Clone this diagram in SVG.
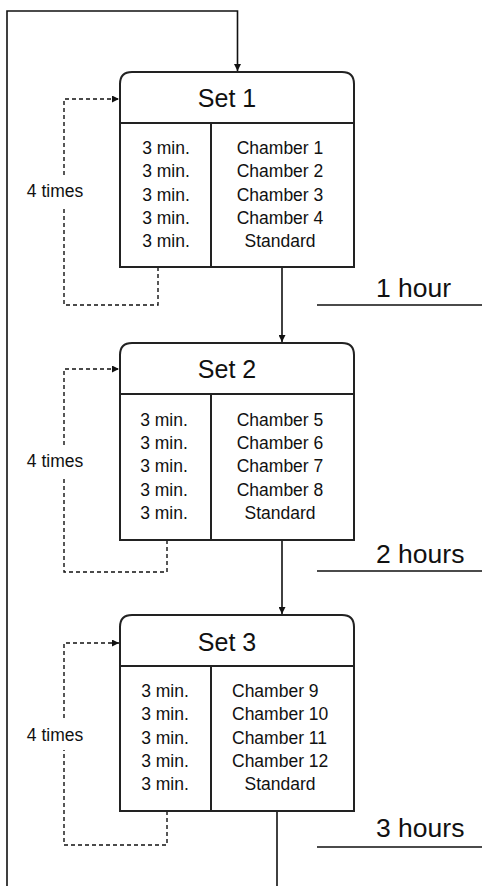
<svg xmlns="http://www.w3.org/2000/svg" width="482" height="886" viewBox="0 0 482 886">
<style>
text{font-family:"Liberation Sans",Arial,sans-serif;fill:#111}
.box{fill:#fff;stroke:#222;stroke-width:2}
.div{stroke:#222;stroke-width:2;fill:none}
.title{font-size:25px;text-anchor:middle}
.row{font-size:17.5px;text-anchor:middle}
.rowl{font-size:17.5px;text-anchor:start}
.lbl{font-size:17.5px;text-anchor:middle}
.hr{font-size:26.5px}
.line{stroke:#111;stroke-width:1.6;fill:none}
.dash{stroke:#111;stroke-width:1.4;fill:none;stroke-dasharray:4 3}
</style>
<defs>
<marker id="ah" viewBox="0 0 10 10" refX="10" refY="5" markerWidth="7" markerHeight="7" markerUnits="userSpaceOnUse" orient="auto">
<path d="M0,0 L10,5 L0,10 z" fill="#111"/>
</marker>
</defs>
<g id="connectors">
<path class="line" d="M7,886 V11 H237.5 V71" marker-end="url(#ah)"/>
<path class="line" d="M282,267 V342" marker-end="url(#ah)"/>
<path class="line" d="M282,540 V614" marker-end="url(#ah)"/>
<path class="line" d="M277,811 V886"/>
<path class="dash" d="M158,267 V305 H64 V206"/>
<path class="dash" d="M64,175 V99 H119" marker-end="url(#ah)"/>
<path class="dash" d="M167,540 V572 H64 V477"/>
<path class="dash" d="M64,445 V369 H119" marker-end="url(#ah)"/>
<path class="dash" d="M167,811 V845 H64 V750"/>
<path class="dash" d="M64,718 V643 H119" marker-end="url(#ah)"/>
<path class="line" d="M317,305 H482 M317,571 H482 M317,847 H482"/>
</g>
<g id="hour1"><text class="hr" x="376" y="297">1 hour</text></g>
<g id="hour2"><text class="hr" x="376" y="563">2 hours</text></g>
<g id="hour3"><text class="hr" x="376" y="837">3 hours</text></g>
<g id="loop1"><text class="lbl" x="55" y="197">4 times</text></g>
<g id="loop2"><text class="lbl" x="55" y="467">4 times</text></g>
<g id="loop3"><text class="lbl" x="55" y="741">4 times</text></g>
<g id="set1">
<path class="box" d="M120,267 V84 Q120,72 132,72 H342 Q354,72 354,84 V267 Z"/>
<path class="div" d="M120,123 H354 M211,123 V267"/>
<text class="title" x="227" y="107">Set 1</text>
<text class="row" x="166" y="154">3 min.</text>
<text class="row" x="166" y="177.3">3 min.</text>
<text class="row" x="166" y="200.7">3 min.</text>
<text class="row" x="166" y="224">3 min.</text>
<text class="row" x="166" y="247.3">3 min.</text>
<text class="row" x="280" y="154">Chamber 1</text>
<text class="row" x="280" y="177.3">Chamber 2</text>
<text class="row" x="280" y="200.7">Chamber 3</text>
<text class="row" x="280" y="224">Chamber 4</text>
<text class="row" x="280" y="247.3">Standard</text>
</g>
<g id="set2">
<path class="box" d="M120,540 V355 Q120,343 132,343 H342 Q354,343 354,355 V540 Z"/>
<path class="div" d="M120,394 H354 M211,394 V540"/>
<text class="title" x="227" y="378">Set 2</text>
<text class="row" x="164" y="425.5">3 min.</text>
<text class="row" x="164" y="448.8">3 min.</text>
<text class="row" x="164" y="472.2">3 min.</text>
<text class="row" x="164" y="495.5">3 min.</text>
<text class="row" x="164" y="518.8">3 min.</text>
<text class="row" x="280" y="425.5">Chamber 5</text>
<text class="row" x="280" y="448.8">Chamber 6</text>
<text class="row" x="280" y="472.2">Chamber 7</text>
<text class="row" x="280" y="495.5">Chamber 8</text>
<text class="row" x="280" y="518.8">Standard</text>
</g>
<g id="set3">
<path class="box" d="M120,811 V627 Q120,615 132,615 H342 Q354,615 354,627 V811 Z"/>
<path class="div" d="M120,666 H354 M211,666 V811"/>
<text class="title" x="227" y="651">Set 3</text>
<text class="row" x="165" y="697">3 min.</text>
<text class="row" x="165" y="720.3">3 min.</text>
<text class="row" x="165" y="743.7">3 min.</text>
<text class="row" x="165" y="767">3 min.</text>
<text class="row" x="165" y="790.3">3 min.</text>
<text class="rowl" x="232" y="697">Chamber 9</text>
<text class="rowl" x="232" y="720.3">Chamber 10</text>
<text class="rowl" x="232" y="743.7">Chamber 11</text>
<text class="rowl" x="232" y="767">Chamber 12</text>
<text class="row" x="280" y="790.3">Standard</text>
</g>
</svg>
